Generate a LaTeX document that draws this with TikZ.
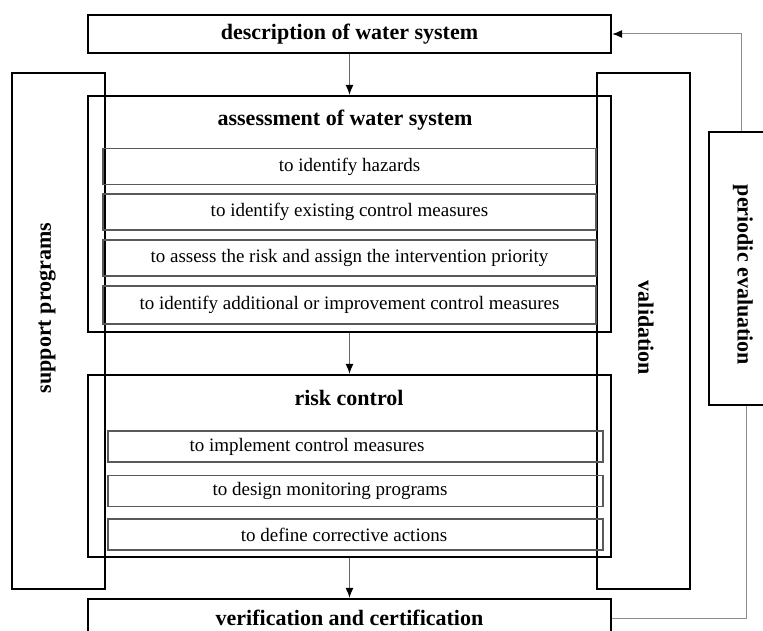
\documentclass[tikz,border=0pt]{standalone}
\usepackage{fontspec}
\setmainfont{Liberation Serif}
\usetikzlibrary{arrows.meta}

\tikzset{
    big box/.style={draw, line width=2.4pt, inner sep=0pt},
    sub box/.style={draw=black!65, line width=1.3pt, inner sep=0pt},
    title text/.style={font=\fontsize{22}{26}\selectfont\bfseries, inner sep=0pt},
    sub text/.style={font=\fontsize{19}{23}\selectfont, inner sep=0pt},
    tip/.style={-{Latex[length=10pt, width=8pt, color=black]}},
    flow/.style={draw=black!60, line width=1pt, tip},
    back line/.style={draw=black!45, line width=1pt}
    }

\begin{document}
\begin{tikzpicture}[x=1pt, y=-1pt]
                \useasboundingbox (0,0) rectangle (763,631);
                \clip (0,0) rectangle (763,631);
                \node(desc)[big box, title text, minimum width=523pt, minimum height=38pt] at (349.5,34) {description of water system};
                \node(support)[big box, minimum width=93pt, minimum height=516pt] at (58.5,331) {};
                \node(supportt)[title text, rotate=90] at (47,308) {support programs};
                \node(valid)[big box, minimum width=93pt, minimum height=516pt] at (643.5,331) {};
                \node(validt)[title text, rotate=-90] at (646,328) {validation};
                \node(periodic)[big box, minimum width=68pt, minimum height=273pt] at (743,268.5) {};
                \node(periodict)[title text, rotate=-90] at (743,275) {periodic evaluation};

                \node(assess)[big box, minimum width=523pt, minimum height=236pt] at (349.5,214) {};
                \node(assesst)[title text] at (345,120) {assessment of water system};
                \node(hazard)[sub box, sub text, minimum width=493pt, minimum height=36pt] at (349.5,166.5) {to identify hazards};
                \node(existing)[sub box, sub text, minimum width=493pt, minimum height=36pt] at (349.5,212) {to identify existing control measures};
                \node(priority)[sub box, sub text, minimum width=493pt, minimum height=36pt] at (349.5,258) {to assess the risk and assign the intervention priority};
                \node(additional)[sub box, sub text, minimum width=493pt, minimum height=38pt] at (349.5,305) {to identify additional or improvement control measures};

                \node(riskc)[big box, minimum width=523pt, minimum height=182pt] at (349.5,466) {};
                \node(riskct)[title text] at (349,398) {risk control};
                \node(implement)[sub box, minimum width=495pt, minimum height=31pt] at (355.5,446.5) {};
                \node(implementt)[sub text] at (307,446.5) {to implement control measures};
                \node(monitor)[sub box, minimum width=495pt, minimum height=31pt] at (355.5,491) {};
                \node(monitort)[sub text] at (330,491) {to design monitoring programs};
                \node(corrective)[sub box, minimum width=495pt, minimum height=31pt] at (355.5,534.5) {};
                \node(correctivet)[sub text] at (344,534.5) {to define corrective actions};

                \node(verif)[big box, title text, minimum width=523pt, minimum height=38pt] at (349.5,618) {verification and certification};

                \coordinate(uptop) at (741,33);
                \coordinate(downbot) at (746,617);
                \draw[flow] (desc) -- (assess);
                \draw[flow] (assess) -- (riskc);
                \draw[flow] (riskc) -- (verif);
                \draw[back line, tip] (periodic.north -| uptop) |- (desc.east);
                \draw[back line] (verif.east) -| (periodic.south -| downbot);
            \end{tikzpicture}
\end{document}
